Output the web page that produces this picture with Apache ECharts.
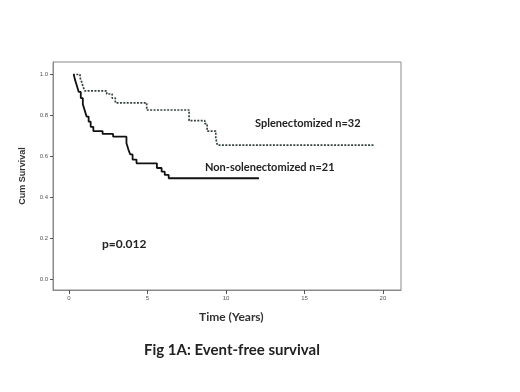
<!DOCTYPE html>
<html><head><meta charset="utf-8">
<script src="https://cdn.jsdelivr.net/npm/echarts@6/dist/echarts.min.js"></script>
<style>html,body{margin:0;padding:0;background:#fff}#c{width:520px;height:392px}</style>
</head><body><div id="c"></div>
<script>
// Splenectomized (dotted): [time in years, cumulative survival after event]
const splenTimes  = [0.25, 0.7, 0.8, 0.9, 1.0, 2.4, 2.75, 2.95, 4.95, 7.65, 8.65, 8.8, 9.35, 9.45, 19.4];
const splenValues = [1.0, 0.985, 0.965, 0.94, 0.92, 0.905, 0.885, 0.862, 0.827, 0.775, 0.76, 0.724, 0.69, 0.656, 0.656];
// Non-splenectomized (solid)
const nonTimes  = [0.3, 0.38, 0.5, 0.62, 0.75, 0.88, 1.0, 1.12, 1.25, 1.38, 1.55, 2.14, 2.81, 3.66, 3.78, 3.9, 4.05, 4.3, 5.6, 5.9, 6.1, 6.35, 12.1];
const nonValues = [1.0, 0.975, 0.945, 0.915, 0.885, 0.855, 0.825, 0.795, 0.77, 0.745, 0.724, 0.710, 0.697, 0.665, 0.635, 0.61, 0.585, 0.567, 0.544, 0.526, 0.51, 0.494, 0.494];
const xTicks = [0, 5, 10, 15, 20];
const yTicks = [0, 0.2, 0.4, 0.6, 0.8, 1.0];
const seriesNames = ['Splenectomized n=32', 'Non-solenectomized n=21'];
const pText = 'p=0.012';
const xName = 'Time (Years)';
const yName = 'Cum Survival';
const title = 'Fig 1A: Event-free survival';

const zip = (a, b) => a.map((t, i) => [t, b[i]]);
const chart = echarts.init(document.getElementById('c'), null, {renderer: 'canvas'});
const tickLabel = {fontSize: 6, color: '#555', fontFamily: 'Liberation Sans'};
chart.setOption({
  animation: false,
  backgroundColor: '#fff',
  grid: {left: 53, top: 62, right: 119, bottom: 102, show: true, borderColor: '#8a8a8a', borderWidth: 1},
  xAxis: {
    type: 'value', min: -1.02, max: 21.15,
    axisLine: {show: true, onZero: false, lineStyle: {color: '#8a8a8a', width: 1}},
    axisTick: {show: true, length: 4, customValues: xTicks, lineStyle: {color: '#555'}},
    axisLabel: Object.assign({customValues: xTicks, margin: 5}, tickLabel),
    splitLine: {show: false}
  },
  yAxis: {
    type: 'value', min: -0.051, max: 1.061,
    name: yName, nameLocation: 'middle', nameRotate: 90, nameGap: 26,
    nameTextStyle: {fontSize: 9, fontFamily: 'Liberation Sans Narrow, Liberation Sans', fontWeight: 'bold', color: '#333'},
    axisLine: {show: true, onZero: false, lineStyle: {color: '#8a8a8a', width: 1}},
    axisTick: {show: true, length: 3, customValues: yTicks, lineStyle: {color: '#555'}},
    axisLabel: Object.assign({customValues: yTicks, margin: 5, formatter: v => v.toFixed(1)}, tickLabel),
    splitLine: {show: false}
  },
  series: [
    {name: seriesNames[0], type: 'line', step: 'end', data: zip(splenTimes, splenValues), symbol: 'none',
     lineStyle: {color: '#34443a', width: 1.7, type: [2, 1.4]}},
    {name: seriesNames[1], type: 'line', step: 'end', data: zip(nonTimes, nonValues), symbol: 'none',
     lineStyle: {color: '#111', width: 1.8}}
  ],
  graphic: [
    {type: 'text', left: 255, top: 118, style: {text: seriesNames[0], font: 'bold 11px Lato', fill: '#222'}},
    {type: 'text', left: 205, top: 162, style: {text: seriesNames[1], font: 'bold 11px Lato', fill: '#222'}},
    {type: 'text', left: 102, top: 238, style: {text: pText, font: 'bold 12px Lato', fill: '#222'}},
    {type: 'text', left: 199, top: 311, style: {text: xName, font: 'bold 12px Lato', fill: '#333'}},
    {type: 'text', left: 144, top: 343, style: {text: title, font: 'bold 15px Lato', fill: '#222'}}
  ]
});
</script></body></html>
